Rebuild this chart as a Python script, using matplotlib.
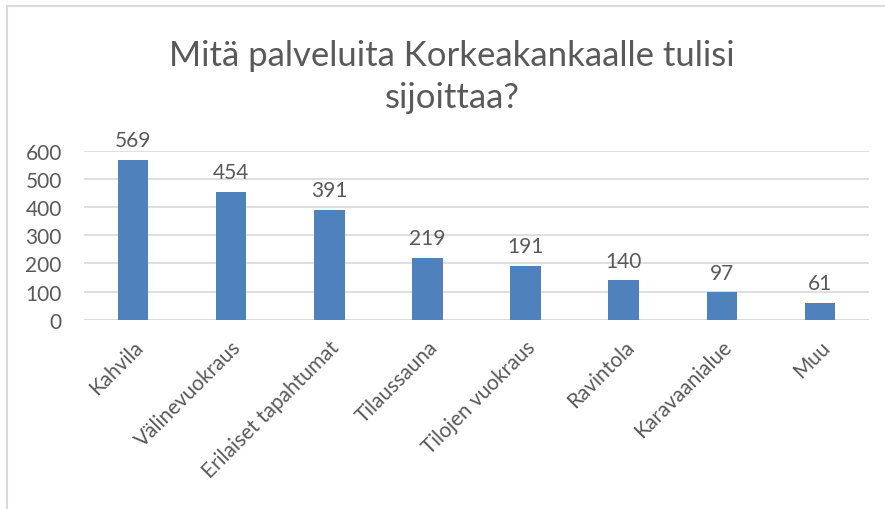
import matplotlib
matplotlib.use('Agg')
from matplotlib import pyplot as plt
from matplotlib.patches import Rectangle

plt.rcParams['font.family'] = ['Lato', 'DejaVu Sans']

categories = ['Kahvila', 'Välinevuokraus', 'Erilaiset tapahtumat', 'Tilaussauna',
              'Tilojen vuokraus', 'Ravintola', 'Karavaanialue', 'Muu']
values = [569, 454, 391, 219, 191, 140, 97, 61]
yticks = [0, 100, 200, 300, 400, 500, 600]

txt = '#595959'
fig = plt.figure(figsize=(8.85, 5.1), dpi=100)
ax = fig.add_axes([84/885, 1 - 320.7/510, 785/885, 168.7/510])

x = range(len(categories))
bars = ax.bar(x, values, width=0.31, color='#4f81bd', zorder=3)
for xi, v in zip(x, values):
    ax.annotate(str(v), (xi, v), xytext=(0, 7), textcoords='offset points',
                ha='center', va='bottom', fontsize=15, color=txt)

ax.set_xlim(-0.5, len(categories) - 0.5)
ax.set_ylim(0, 600)
ax.set_yticks(yticks)
ax.yaxis.grid(True, color='#d9d9d9', linewidth=1.2, zorder=0)
for s in ax.spines.values():
    s.set_visible(False)
ax.axhline(0, color='#d9d9d9', linewidth=1.2, zorder=1)
ax.tick_params(axis='both', length=0, labelsize=15, labelcolor=txt)
ax.tick_params(axis='y', pad=16)
ax.set_xticks(list(x))
ax.set_xticklabels(categories, rotation=45, ha='right', rotation_mode='anchor')
ax.tick_params(axis='x', pad=12)

fig.text(452/885, 1 - 77/510, 'Mitä palveluita Korkeakankaalle tulisi\nsijoittaa?',
         ha='center', va='center', fontsize=25, color=txt, linespacing=1.4)

fig.patches.append(Rectangle((7/885, -0.1), 1.2, 1 - 7/510 + 0.1, transform=fig.transFigure,
                             fill=False, edgecolor='#d9d9d9', linewidth=1.5))

fig.savefig('out.png', dpi=100)
